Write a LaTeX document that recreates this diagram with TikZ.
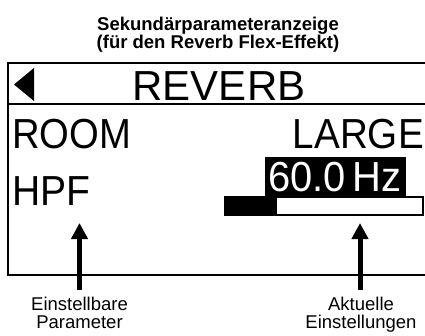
\documentclass[tikz,border=0pt]{standalone}
\usepackage{graphicx}
\usepackage{fontspec}
\setmainfont{Liberation Sans}
\usetikzlibrary{arrows.meta}
\tikzset{
  disp/.style={inner sep=0pt, font=\fontsize{42}{42}\selectfont},
  lab/.style={inner sep=0pt, align=center, font=\fontsize{18.5}{18}\selectfont},
  ttl/.style={inner sep=0pt, align=center, font=\fontsize{18.5}{18}\selectfont\bfseries},
  frame/.style={draw=black, line width=1.3pt},
  bigarrow/.style={line width=5pt, -{Triangle[length=16pt,width=16pt]}},
}
\begin{document}
\begin{tikzpicture}[x=1pt,y=-1pt]
\useasboundingbox (0,0) rectangle (425,335);
% title
\node[ttl, anchor=north] (title) at (218,17) {Sekundärparameteranzeige\\(für den Reverb Flex-Effekt)};
\begin{scope}
\clip (0,0) rectangle (425,335);
\draw[frame] (8,63) rectangle (440,275);
\draw[frame] (8,104) -- (440,104);
% bar
\fill[black] (265,157) rectangle (406,197);
\draw[frame] (225,197) rectangle (423,215);
\fill[black] (225,197) rectangle (277,215);
\end{scope}
\fill[black] (14,84.5) -- (34,68) -- (34,101) -- cycle;
\node[disp, anchor=base] (reverb) at (219,100) {REVERB};
\node[disp, anchor=base west] (room) at (12,148) {\scalebox{0.91}[1]{ROOM}};
\node[disp, anchor=base east] (large) at (424,148) {\scalebox{0.92}[1]{LARGE}};
\node[disp, anchor=base west] (hpf) at (12,205) {\scalebox{0.93}[1]{HPF}};
\node[disp, anchor=base, text=white] (hz) at (335,191) {\scalebox{0.95}[1]{60.0\,Hz}};
% labels
\node[lab, anchor=north] (labL) at (79.5,296.5) {Einstellbare\\Parameter};
\node[lab, anchor=north] (labR) at (361,296.5) {Aktuelle\\Einstellungen};
\coordinate (tipL) at (79.5,223);
\coordinate (tipR) at (360,223);
\draw[bigarrow, shorten <=6.5pt] (labL.north) -- (tipL);
\draw[bigarrow, shorten <=6.5pt] (labR.north -| tipR) -- (tipR);
\end{tikzpicture}
\end{document}
